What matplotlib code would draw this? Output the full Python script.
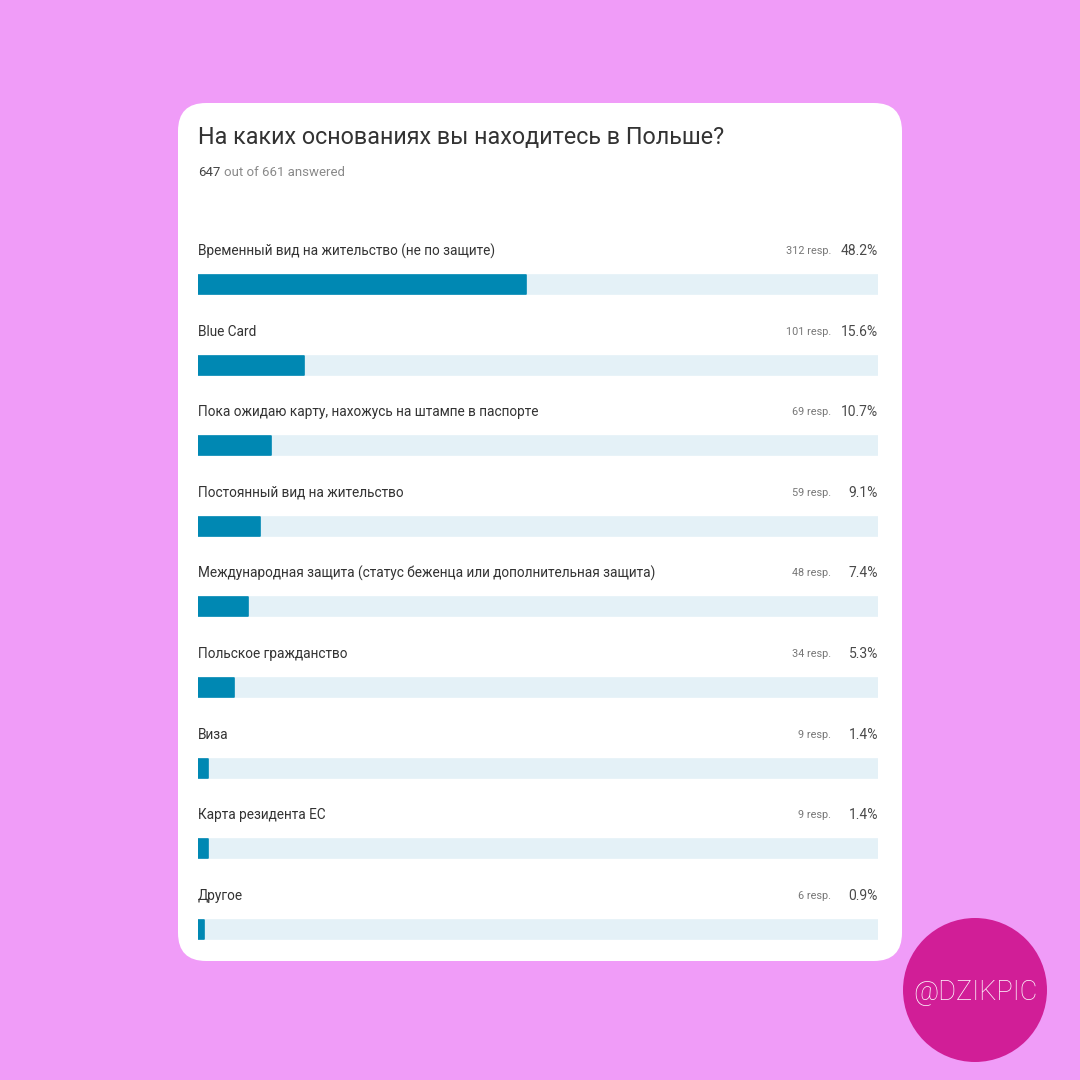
import matplotlib.pyplot as plt
from matplotlib.patches import FancyBboxPatch, Circle

plt.rcParams['font.family'] = ['Roboto', 'DejaVu Sans']

# survey data
title = 'На каких основаниях вы находитесь в Польше?'
answered = 647
total = 661
labels = ['Временный вид на жительство (не по защите)',
          'Blue Card',
          'Пока ожидаю карту, нахожусь на штампе в паспорте',
          'Постоянный вид на жительство',
          'Международная защита (статус беженца или дополнительная защита)',
          'Польское гражданство',
          'Виза',
          'Карта резидента ЕС',
          'Другое']
responses = [312, 101, 69, 59, 48, 34, 9, 9, 6]
percents = [48.2, 15.6, 10.7, 9.1, 7.4, 5.3, 1.4, 1.4, 0.9]

W = 1080
fig = plt.figure(figsize=(10.8, 10.8), dpi=100)
fig.patch.set_facecolor('#F09CF8')

# white card
card = FancyBboxPatch((178 / W, 1 - 961 / W), 724 / W, 858 / W,
                      boxstyle='round,pad=0,rounding_size=0.026',
                      transform=fig.transFigure, facecolor='white',
                      edgecolor='none', zorder=-2)
fig.patches.append(card)

# badge
badge = Circle((975 / W, 1 - 990 / W), 72 / W, transform=fig.transFigure,
               facecolor='#D11E97', edgecolor='none', zorder=-1)
fig.patches.append(badge)
fig.text(975 / W, 1 - 992 / W, '@DZIKPIC', color='white', fontsize=19.5,
         ha='center', va='center', fontweight='light')

fig.text(198 / W, 1 - 137 / W, title, fontsize=16.8, color='#333333',
         ha='left', va='center')
fig.text(198 / W, 1 - 172 / W, str(answered), fontsize=9.5,
         color='#444444', ha='left', va='center')
fig.text(224 / W, 1 - 172 / W, 'out of %d answered' % total, fontsize=9.5,
         color='#8a8a8a', ha='left', va='center')

# bars axis in the card, x in percent, y in pixels
ax = fig.add_axes([198 / W, 0, 680 / W, 1], zorder=3)
ax.set_xlim(0, 100)
ax.set_ylim(W, 0)
ax.axis('off')

row0 = 284.5
step = 80.6
ys = [row0 + step * i for i in range(len(labels))]

ax.barh(ys, [100] * len(ys), height=19, color='#E4F1F7', zorder=1,
        edgecolor='#E4F1F7', linewidth=1.2, joinstyle='round')
ax.barh(ys, percents, height=19, color='#0088B3', zorder=2,
        edgecolor='#0088B3', linewidth=1.2, joinstyle='round')

for y, lab, r, p in zip(ys, labels, responses, percents):
    ax.text(0, y - 33.5, lab, fontsize=9.8, color='#333333',
            ha='left', va='center')
    ax.text(100, y - 33.5, '%.1f%%' % p, fontsize=10, color='#4a4a4a',
            ha='right', va='center')
    ax.text(93.1, y - 33.5, '%d resp.' % r, fontsize=7.8, color='#777777',
            ha='right', va='center')

plt.savefig('out.png', dpi=100, facecolor=fig.get_facecolor())
